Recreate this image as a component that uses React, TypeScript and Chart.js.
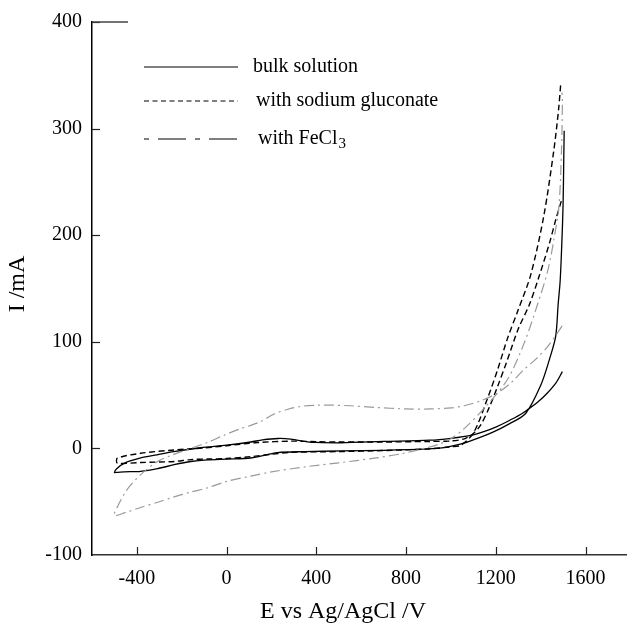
import React, { useEffect, useRef } from "react";
import { Chart, registerables } from "chart.js";

Chart.register(...registerables);

// ---- data (E as labelled on the axis, I in mA) ----
const xTicks = [-400, 0, 400, 800, 1200, 1600];
const yTicks = [-100, 0, 100, 200, 300, 400];

// bulk solution: reverse branch (from 1500 back to -500), then forward branch
const bulkE = [1497, 1470, 1430, 1390, 1340, 1312, 1250, 1200, 1150, 1095, 1000, 905, 700, 509, 400, 361, 286, 230, 160, 108, 0, -115, -235, -310, -383, -457, -490, -500,
  -490, -457, -383, -308, -234, -160, -85, 0, 108, 227, 350, 509, 700, 900, 960, 1042, 1100, 1185, 1260, 1334, 1402, 1440, 1467, 1478, 1487, 1494, 1500, 1503, 1505];
const bulkI = [72, 62, 52, 44, 36, 32, 25, 20, 16, 12.5, 9.5, 7.7, 6.5, 5.3, 5.6, 6.2, 8.7, 9.3, 8, 6, 3, 0.6, -3, -6, -9, -14, -19, -22.5,
  -22.5, -22, -21.5, -19, -15.3, -12.3, -10.7, -10, -9, -4, -3, -2.4, -1.8, -0.5, 0.5, 4, 8, 15, 23, 33, 60, 84, 105, 135, 157, 190, 228, 270, 298];

// with sodium gluconate
const glucE = [1492, 1468, 1440, 1391, 1350, 1300, 1250, 1208, 1170, 1133, 1100, 1060, 1000, 900, 700, 500, 400, 286, 138, 0, -100, -234, -383, -487,
  -487, -383, -234, -160, -85, 0, 108, 200, 286, 500, 700, 900, 1000, 1045, 1102, 1165, 1210, 1252, 1300, 1356, 1414, 1459, 1480, 1490];
const glucI = [232, 215, 193, 160, 135, 112, 82, 58, 38, 22, 14, 9, 7, 6.5, 6, 6, 6.3, 6.8, 5.5, 2.5, 0.5, -1.5, -4.6, -9.2,
  -13.8, -13.2, -12.3, -10.5, -10, -9.5, -7.7, -5.5, -3.7, -3, -2, -0.5, 1.5, 3, 15, 48, 75, 103, 130, 163, 218, 280, 318, 343];

// with FeCl3
const fecE = [1495, 1490, 1431, 1380, 1326, 1270, 1208, 1133, 1059, 1000, 910, 800, 658, 550, 465, 400, 331, 270, 212, 150, 108, 63, -11, -80, -160, -240, -308, -383, -430, -457, -480, -501,
  -450, -383, -300, -234, -160, -85, 0, 108, 200, 361, 500, 658, 780, 881, 955, 1000, 1059, 1150, 1252, 1326, 1386, 1431, 1460, 1482, 1493, 1497, 1495];
const fecI = [115, 113, 95.5, 84, 74, 62, 52, 44.7, 40, 38, 37, 37, 38.5, 40, 40.6, 40.5, 39.4, 36.5, 32.3, 25, 21.6, 18.5, 12.4, 6, 0, -6, -12.3, -24.6, -35, -43, -52, -63,
  -60, -55.4, -50, -45.5, -41, -37, -31, -26, -22, -17, -13.5, -9.2, -5, 0, 4.6, 9, 18.5, 38, 64.6, 98.5, 135, 166, 197, 228, 280, 326, 334];

const seriesNames = ["bulk solution", "with sodium gluconate", "with FeCl"];
const xTitle = "E vs Ag/AgCl /V";
const yTitle = "I /mA";

const toPts = (xs: number[], ys: number[]) => xs.map((x, i) => ({ x, y: ys[i] }));

const FONT = '"Liberation Serif", "Times New Roman", serif';

const decor = {
  id: "decor",
  afterDraw(chart: any) {
    const { ctx, chartArea } = chart;
    const { left, top, bottom } = chartArea;
    const xs = chart.scales.x;
    const ys = chart.scales.y;
    ctx.save();
    const seg = (x1: number, y1: number, x2: number, y2: number) => {
      ctx.beginPath();
      ctx.moveTo(x1, y1);
      ctx.lineTo(x2, y2);
      ctx.stroke();
    };
    // inward ticks
    ctx.strokeStyle = "#222";
    ctx.lineWidth = 1.2;
    xTicks.forEach((v) => {
      const px = Math.round(xs.getPixelForValue(v)) + 0.5;
      seg(px, bottom, px, bottom - 8);
    });
    yTicks.forEach((v) => {
      if (v === yTicks[0]) return;
      const py = Math.round(ys.getPixelForValue(v)) + 0.5;
      seg(left, py, left + 8, py);
    });
    // short top frame piece
    ctx.strokeStyle = "#444";
    ctx.lineWidth = 1.5;
    seg(left, top, left + 36, top);

    // axis titles
    ctx.fillStyle = "#000";
    ctx.font = `24px ${FONT}`;
    ctx.textAlign = "center";
    ctx.textBaseline = "middle";
    ctx.fillText(xTitle, 343, 612);
    ctx.save();
    ctx.translate(18, 284);
    ctx.rotate(-Math.PI / 2);
    ctx.fillText(yTitle, 0, 0);
    ctx.restore();

    // legend
    const lx1 = 144;
    const lx2 = 238;
    const rows = [67, 101, 139];
    ctx.strokeStyle = "#000";
    ctx.lineWidth = 1.1;
    ctx.setLineDash([]);
    seg(lx1, rows[0], lx2, rows[0]);
    ctx.setLineDash([5, 3.5]);
    seg(lx1, rows[1], lx2, rows[1]);
    ctx.setLineDash([5, 9, 28, 9]);
    seg(lx1, rows[2], lx2, rows[2]);
    ctx.setLineDash([]);
    ctx.textAlign = "left";
    ctx.font = `20px ${FONT}`;
    ctx.fillText(seriesNames[0], 253, rows[0]);
    ctx.fillText(seriesNames[1], 256, rows[1]);
    ctx.fillText(seriesNames[2], 258, rows[2]);
    const w = ctx.measureText(seriesNames[2]).width;
    ctx.font = `15px ${FONT}`;
    ctx.fillText("3", 258 + w + 1, rows[2] + 5);
    ctx.restore();
  },
};

export default function App() {
  const ref = useRef<HTMLCanvasElement | null>(null);

  useEffect(() => {
    if (!ref.current) return;
    const chart = new Chart(ref.current, {
      type: "scatter",
      data: {
        datasets: [
          {
            label: seriesNames[2] + "3",
            data: toPts(fecE, fecI),
            showLine: true,
            borderColor: "#9a9a9a",
            borderWidth: 1.2,
            borderDash: [10, 4, 2, 4],
            pointRadius: 0,
            tension: 0.3,
            fill: false,
          },
          {
            label: seriesNames[1],
            data: toPts(glucE, glucI),
            showLine: true,
            borderColor: "#000",
            borderWidth: 1.4,
            borderDash: [6, 3.5],
            pointRadius: 0,
            tension: 0.3,
            fill: false,
          },
          {
            label: seriesNames[0],
            data: toPts(bulkE, bulkI),
            showLine: true,
            borderColor: "#000",
            borderWidth: 1.3,
            pointRadius: 0,
            tension: 0.3,
            fill: false,
          },
        ],
      },
      options: {
        animation: false,
        responsive: false,
        devicePixelRatio: 1,
        layout: { padding: { top: 13, right: 0, left: 0, bottom: 0 } },
        plugins: { legend: { display: false }, tooltip: { enabled: false } },
        scales: {
          x: {
            type: "linear",
            min: -600,
            max: 1785,
            grid: { display: false, drawTicks: false },
            border: { display: true, color: "#333", width: 1.5 },
            ticks: {
              color: "#000",
              font: { family: FONT, size: 20 },
              padding: 12,
              maxRotation: 0,
              callback: (v: any) => String(v),
            },
            afterBuildTicks: (s: any) => {
              s.ticks = xTicks.map((v) => ({ value: v }));
            },
            afterFit: (s: any) => {
              s.height = 79;
            },
          },
          y: {
            type: "linear",
            min: -100,
            max: 400,
            grid: { display: false, drawTicks: false },
            border: { display: true, color: "#000", width: 1.5 },
            ticks: {
              color: "#000",
              font: { family: FONT, size: 20 },
              padding: 10,
              callback: (v: any) => String(v),
            },
            afterBuildTicks: (s: any) => {
              s.ticks = yTicks.map((v) => ({ value: v }));
            },
            afterFit: (s: any) => {
              s.width = 92;
            },
          },
        },
      },
      plugins: [decor],
    });
    return () => chart.destroy();
  }, []);

  return (
    <div style={{ position: "absolute", left: 0, top: 0, width: 627, height: 634, background: "#fff" }}>
      <canvas ref={ref} width={627} height={634} style={{ display: "block" }} />
    </div>
  );
}
